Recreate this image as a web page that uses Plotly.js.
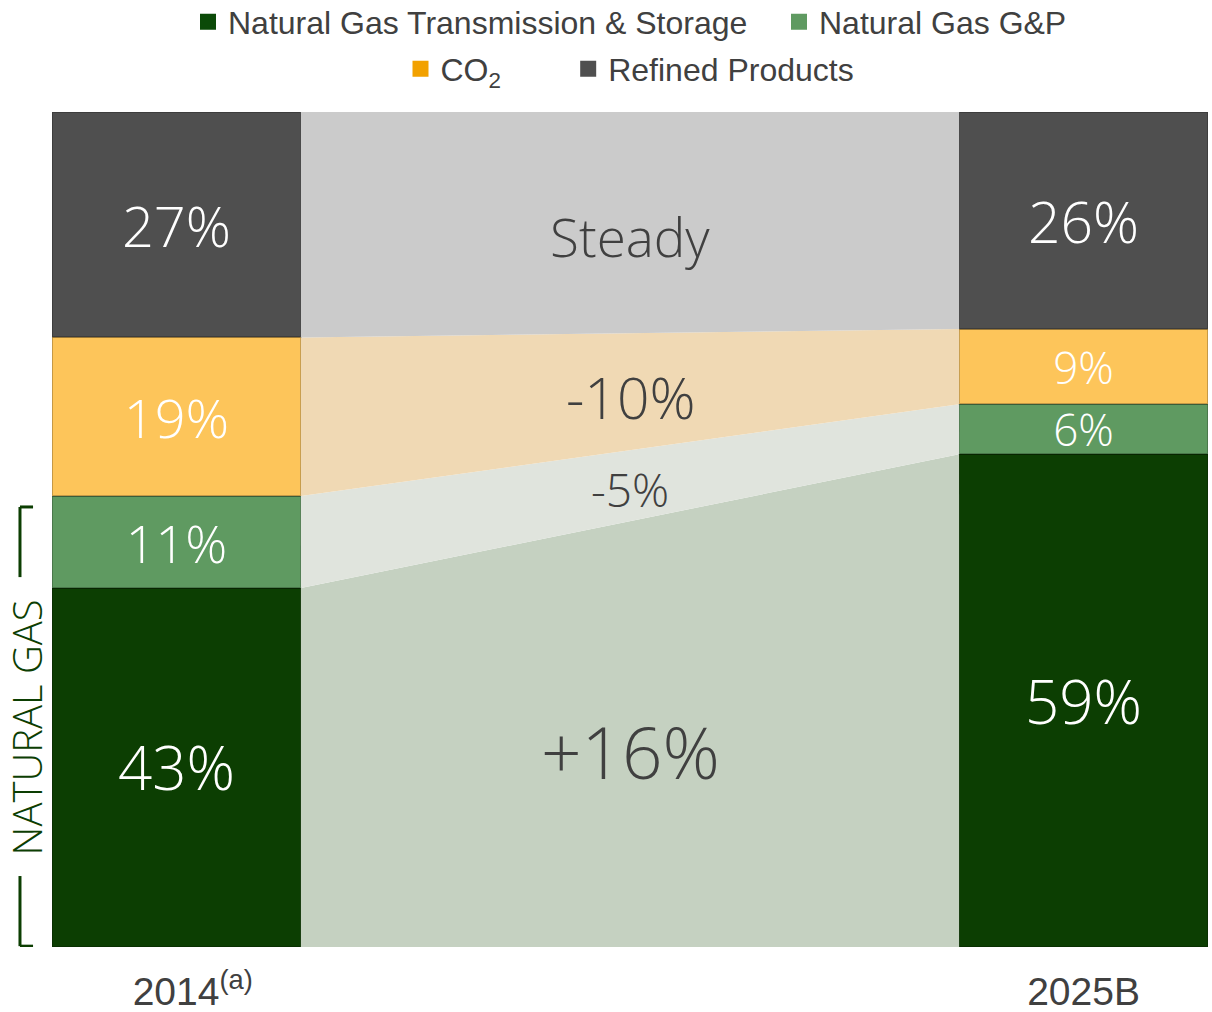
<!DOCTYPE html>
<html>
<head>
<meta charset="utf-8">
<script src="https://cdn.plot.ly/plotly-3.0.1.min.js"></script>
<style>
  body { margin: 0; background: #fff; }
  #chart { width: 1212px; height: 1012px; }
</style>
</head>
<body>
<div id="chart"></div>
<script>
// segments are listed bottom to top, as they stack
const tickLabels = ['\u00a0\u00a0\u00a02014<sup>(a)</sup>', '2025B']
const segments = ['Natural Gas Transmission & Storage', 'Natural Gas G&P', 'CO<sub>2</sub>', 'Refined Products']
const share2014 = [43, 11, 19, 27]
const share2025 = [59, 6, 9, 26]
const changeLabels = ['+16%', '-5%', '-10%', 'Steady']

const barColors = ['#0c3e02', '#5f9a61', '#fdc55a', '#4f4f4f']
const legendColors = ['#0b4a08', '#5f9a61', '#f2a100', '#4f4f4f']
const bandColors = ['#c5d1c1', '#e0e4dd', '#f0d9b4', '#cbcbcb']
const barTextSizes = [[60, 60], [52, 44], [54, 44], [56, 57]]
const changeTextY = [23.4, 54.9, 65.9, 85.1]
const changeTextSizes = [71, 46, 57, 53]
// extra room after some legend names, so the rows spread like the original
const legendPad = [3, 0, 7, 0]

const lightFont = 'Open Sans, Noto Sans, sans-serif'
const plainFont = 'Liberation Sans, Arial, sans-serif'
const barWidth = 0.2744

const xLeft = barWidth / 2
const xRight = 1 - barWidth / 2

const traces = []

// connecting bands between the two bars
let lo14 = 0
let lo25 = 0
for (let i = 0; i < segments.length; i++) {
    const hi14 = lo14 + share2014[i]
    const hi25 = lo25 + share2025[i]
    traces.push({
        type: 'scatter',
        mode: 'lines',
        x: [xLeft, xRight, xRight, xLeft, xLeft],
        y: [lo14, lo25, hi25, hi14, lo14],
        fill: 'toself',
        fillcolor: bandColors[i],
        line: {width: 0},
        showlegend: false,
        hoverinfo: 'skip'
    })
    lo14 = hi14
    lo25 = hi25
}

for (let i = 0; i < segments.length; i++) {
    traces.push({
        type: 'bar',
        name: segments[i],
        x: [0, 1],
        y: [share2014[i], share2025[i]],
        width: barWidth,
        showlegend: false,
        marker: {color: barColors[i], line: {color: 'rgba(0,0,0,0.22)', width: 2}},
        text: [share2014[i] + '%', share2025[i] + '%'],
        textposition: 'inside',
        insidetextanchor: 'middle',
        textangle: 0,
        constraintext: 'none',
        textfont: {family: lightFont, size: barTextSizes[i], color: '#ffffff', weight: 300},
        hoverinfo: 'skip'
    })
}

// legend keys (square markers, no points drawn)
for (let i = 0; i < segments.length; i++) {
    traces.push({
        type: 'scatter',
        mode: 'markers',
        name: segments[i] + '\u00a0'.repeat(legendPad[i]),
        x: [null],
        y: [null],
        legend: i < 2 ? 'legend' : 'legend2',
        marker: {symbol: 'square', size: 16, color: legendColors[i]},
        hoverinfo: 'skip'
    })
}

const annotations = changeLabels.map((label, i) => ({
    x: 0.5, y: changeTextY[i], xref: 'x', yref: 'y',
    text: label, showarrow: false,
    font: {family: lightFont, size: changeTextSizes[i], color: '#404040', weight: 300}
}))

annotations.push({
    x: -0.0225, y: 26.3, xref: 'paper', yref: 'y',
    xanchor: 'center', yanchor: 'middle',
    text: 'NATURAL GAS', textangle: -90, showarrow: false,
    font: {family: lightFont, size: 40, color: '#0c3e02', weight: 300}
})

const bracket = {color: '#0c3e02', width: 3}
const shapes = [
    {type: 'line', xref: 'paper', yref: 'y', x0: -0.0277, x1: -0.0277, y0: 52.7, y1: 44.3, line: bracket},
    {type: 'line', xref: 'paper', yref: 'y', x0: -0.0277, x1: -0.0164, y0: 52.7, y1: 52.7, line: bracket},
    {type: 'line', xref: 'paper', yref: 'y', x0: -0.0277, x1: -0.0277, y0: 8.5, y1: 0.1, line: bracket},
    {type: 'line', xref: 'paper', yref: 'y', x0: -0.0277, x1: -0.0164, y0: 0.1, y1: 0.1, line: bracket}
]

const legendBase = {
    orientation: 'h',
    x: 0.5, xanchor: 'center', xref: 'paper',
    yref: 'container', yanchor: 'middle',
    traceorder: 'normal',
    itemwidth: 30,
    bgcolor: 'rgba(0,0,0,0)',
    font: {family: plainFont, size: 32, color: '#404040'}
}

const layout = {
    width: 1212,
    height: 1012,
    margin: {l: 52, r: 4, t: 112, b: 65},
    barmode: 'stack',
    paper_bgcolor: '#ffffff',
    plot_bgcolor: '#ffffff',
    showlegend: true,
    legend: Object.assign({}, legendBase, {y: 1 - 22 / 1012}),
    legend2: Object.assign({}, legendBase, {y: 1 - 69 / 1012}),
    xaxis: {
        range: [-0.1372, 1.1372],
        tickvals: [0, 1],
        ticktext: tickLabels,
        showgrid: false,
        zeroline: false,
        showline: false,
        ticks: '',
        ticklabelstandoff: 18,
        tickfont: {family: plainFont, size: 39, color: '#404040'}
    },
    yaxis: {range: [0, 100], visible: false, showgrid: false, zeroline: false},
    annotations,
    shapes
}

Plotly.newPlot('chart', traces, layout, {displayModeBar: false, staticPlot: true})
</script>
</body>
</html>
